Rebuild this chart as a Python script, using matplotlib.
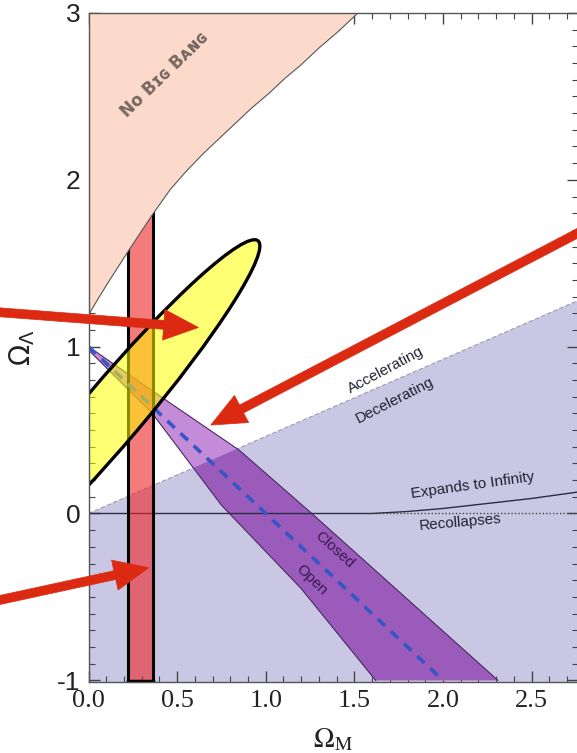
import matplotlib
matplotlib.use("Agg")
import matplotlib.pyplot as plt
from matplotlib.patches import Polygon, Rectangle, Ellipse
from matplotlib.ticker import MultipleLocator, FormatStrFormatter

plt.rcParams["axes.unicode_minus"] = False

# --- values ------------------------------------------------------------
# "no big bang" boundary
nbb_om = [0.0, 0.05, 0.12, 0.235, 0.36, 0.46, 0.55, 0.65, 0.74, 0.85, 0.92,
          1.02, 1.11, 1.20, 1.30, 1.41, 1.52]
nbb_ol = [1.19, 1.28, 1.40, 1.59, 1.79, 1.94, 2.05, 2.16, 2.25, 2.36, 2.43,
          2.52, 2.61, 2.69, 2.79, 2.89, 3.0]

# accelerating / decelerating boundary
acc_om = [0.0, 2.77]
acc_ol = [0.0, 1.28]

# CMB band (closed / open)
band_up_om = [0.0, 0.45, 0.85, 1.26, 2.31]
band_up_ol = [1.0, 0.67, 0.38, 0.0, -1.0]
band_lo_om = [0.0, 0.36, 0.75, 1.20, 1.62]
band_lo_ol = [0.98, 0.60, 0.05, -0.45, -1.0]

# flat universe
flat_om = [0.0, 2.0]
flat_ol = [1.0, -1.0]

# expands / recollapses boundary
exp_om = [0.0, 1.6, 1.8, 2.0, 2.25, 2.5, 2.77]
exp_ol = [0.0, 0.0, 0.012, 0.03, 0.06, 0.09, 0.13]

# supernova confidence ellipse: centre, full axes, angle
sn_center = (0.14, 0.61)
sn_axes = (2.62, 0.35)
sn_angle = 51.5

# cluster Omega_M range
bar_om = [0.225, 0.365]

x_ticks = [0.0, 0.5, 1.0, 1.5, 2.0, 2.5]
y_ticks = [-1, 0, 1, 2, 3]
XMAX, YMIN, YMAX = 2.762, -1.01, 3.0

LAV = "#c9c7e4"
PINK = "#fbdacb"
BAND_LIGHT = "#c48cd8"
BAND_DARK = "#9a5bbb"
ARROW = "#dc2a12"

fig = plt.figure(figsize=(5.77, 7.53), dpi=100)
ax = fig.add_axes([88.5 / 577, 71 / 753, 489.5 / 577, 669 / 753])
ax.set_xlim(0, XMAX)
ax.set_ylim(YMIN, YMAX)

# decelerating region (lavender)
lav = Polygon([(acc_om[0], acc_ol[0]), (acc_om[1], acc_ol[1]),
               (acc_om[1], YMIN), (acc_om[0], YMIN)],
              closed=True, fc=LAV, ec="none", zorder=1)
ax.add_patch(lav)
ax.plot(acc_om, acc_ol, color="#9c9cae", lw=0.8, ls=(0, (4, 2)), zorder=1.5)

# CMB band, lighter over white, darker over the lavender region
band_pts = list(zip(band_up_om, band_up_ol)) + list(zip(band_lo_om, band_lo_ol))[::-1]
ax.add_patch(Polygon(band_pts, closed=True, fc=BAND_LIGHT, ec="none", zorder=2))
dark = Polygon(band_pts, closed=True, fc=BAND_DARK, ec="none", zorder=2.1)
ax.add_patch(dark)
dark.set_clip_path(lav)
ax.plot(band_up_om, band_up_ol, color="#4a2a60", lw=0.8, zorder=2.2)
ax.plot(band_lo_om, band_lo_ol, color="#4a2a60", lw=0.8, zorder=2.2)

# expands / recollapses
ax.plot(exp_om, exp_ol, color="#2c2c44", lw=1.0, zorder=2.3)
ax.plot([exp_om[1], XMAX], [0, 0], color="#444444", lw=1.0, ls=(0, (1, 1.5)), zorder=2.3)

# cluster bar
ax.add_patch(Rectangle((bar_om[0], YMIN), bar_om[1] - bar_om[0], YMAX - YMIN,
                       fc=(0.93, 0.14, 0.14), alpha=0.6, ec="none", zorder=3))
for xb in bar_om:
    ax.plot([xb, xb], [YMIN, YMAX], color="black", lw=2.2, zorder=3.1)
ax.plot(bar_om, [YMIN + 0.006] * 2, color="black", lw=2.5, zorder=3.1)

# flat universe line
ax.plot(flat_om, flat_ol, color="#3556c4", lw=2.6, ls=(0, (2.8, 2.2)), zorder=3.5)

# no big bang region
nbb_pts = list(zip(nbb_om, nbb_ol)) + [(nbb_om[-1], YMAX + 0.1), (0, YMAX + 0.1)]
ax.add_patch(Polygon(nbb_pts, closed=True, fc=PINK, ec="none", zorder=4))
ax.plot(nbb_om, nbb_ol, color="#555555", lw=0.8, zorder=4.1)

# supernova ellipse
ax.add_patch(Ellipse(sn_center, sn_axes[0], sn_axes[1], angle=sn_angle,
                     fc=(1.0, 1.0, 0.0), alpha=0.55, ec="none", zorder=5))
ax.add_patch(Ellipse(sn_center, sn_axes[0], sn_axes[1], angle=sn_angle,
                     fc="none", ec="black", lw=2.4, zorder=5.1))

# labels inside the plot
ax.text(0.43, 2.63, "N\u1d0f B\u026a\u0262 B\u1d00\u0274\u0262", rotation=44,
        fontsize=12, fontweight="bold", color="#74665f", ha="center", va="center", zorder=6)
txt = dict(fontsize=11, ha="center", va="center", color="#222233", zorder=6,
           family="Liberation Sans")
ax.text(1.68, 0.86, "Accelerating", rotation=28, **txt)
ax.text(1.73, 0.68, "Decelerating", rotation=27, **txt)
ax.text(2.17, 0.17, "Expands to Infinity", rotation=8, **txt)
ax.text(2.10, -0.055, "Recollapses", rotation=5, **txt)
txt["color"] = "#3a1a50"
ax.text(1.39, -0.22, "Closed", rotation=-42, **txt)
ax.text(1.26, -0.40, "Open", rotation=-44, **txt)

# red arrows
arrows = [((-0.55, 1.21), (0.62, 1.115)),
          ((2.85, 1.73), (0.69, 0.53)),
          ((-0.55, -0.53), (0.34, -0.325))]
for start, tip in arrows:
    ax.annotate("", xy=tip, xytext=start, annotation_clip=False,
                arrowprops=dict(arrowstyle="simple,head_length=1.25,head_width=1.1,tail_width=0.32",
                                mutation_scale=20, fc=ARROW, ec=ARROW, lw=0.5,
                                shrinkA=0, shrinkB=0), zorder=8)

# axes styling
for s in ax.spines.values():
    s.set_color("#555555")
    s.set_linewidth(1.0)
    s.set_zorder(7)
ax.set_xticks(x_ticks)
ax.set_yticks(y_ticks)
ax.xaxis.set_minor_locator(MultipleLocator(0.1))
ax.yaxis.set_minor_locator(MultipleLocator(0.1))
ax.xaxis.set_major_formatter(FormatStrFormatter("%.1f"))
ax.tick_params(which="both", direction="in", top=True, right=True, color="#444444")
ax.tick_params(which="major", length=8, width=1.0)
ax.tick_params(which="minor", length=4, width=0.8)
ax.tick_params(axis="x", labelsize=19, labelfontfamily="Liberation Serif", pad=6,
               labelcolor="#222222")
ax.tick_params(axis="y", labelsize=19, labelfontfamily="Liberation Sans", pad=6,
               labelcolor="#222222")

ax.set_xlabel(r"$\Omega_\mathrm{M}$", fontsize=20, math_fontfamily="stix", color="#222222")
ax.set_ylabel(r"$\Omega_\Lambda$", fontsize=20, math_fontfamily="dejavusans", color="#222222")
ax.xaxis.set_label_coords(0.5, -0.065)
ax.yaxis.set_label_coords(-0.105, 0.5)

fig.savefig("out.png", dpi=100)
